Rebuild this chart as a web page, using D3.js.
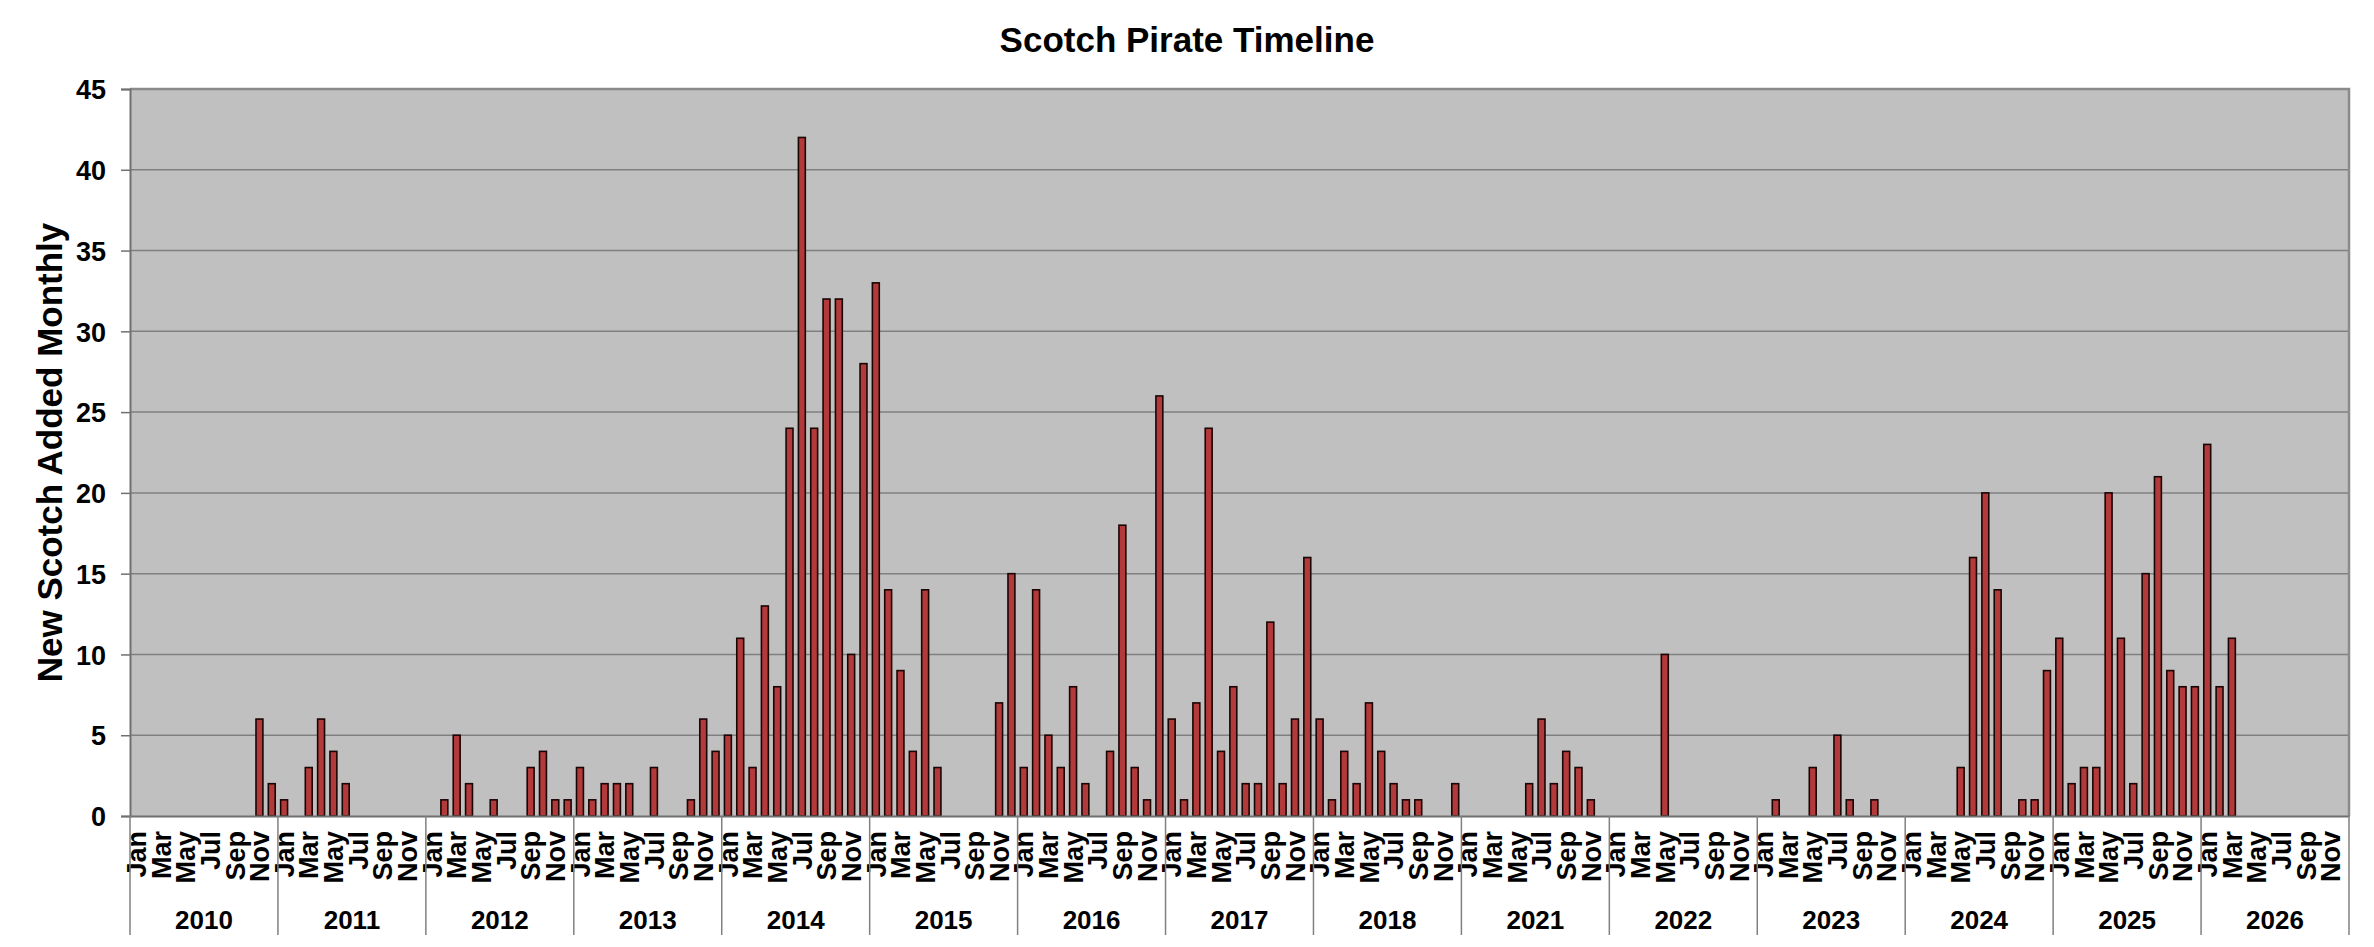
<!DOCTYPE html>
<html>
<head>
<meta charset="utf-8">
<script src="https://cdn.jsdelivr.net/npm/d3@7"></script>
<style>
  html, body { margin: 0; padding: 0; background: #ffffff; }
  svg { display: block; font-family: "Liberation Sans", Arial, sans-serif; }
</style>
</head>
<body>
<div id="chart"></div>
<script>
const chartTitle = "Scotch Pirate Timeline";
const yAxisTitle = "New Scotch Added Monthly";
const years = ["2010","2011","2012","2013","2014","2015","2016","2017","2018","2021","2022","2023","2024","2025","2026"];
const months = ["Jan","Feb","Mar","Apr","May","Jun","Jul","Aug","Sep","Oct","Nov","Dec"];
const shownMonths = ["Jan","Mar","May","Jul","Sep","Nov"];
const yTicks = [0,5,10,15,20,25,30,35,40,45];
// monthly counts, one row per year (Jan..Dec)
const monthlyCounts = [
  [0,0,0,0,0,0,0,0,0,0,6,2],       // 2010
  [1,0,3,6,4,2,0,0,0,0,0,0],       // 2011
  [0,1,5,2,0,1,0,0,3,4,1,1],       // 2012
  [3,1,2,2,2,0,3,0,0,1,6,4],       // 2013
  [5,11,3,13,8,24,42,24,32,32,10,28], // 2014
  [33,14,9,4,14,3,0,0,0,0,7,15],   // 2015
  [3,14,5,3,8,2,0,4,18,3,1,26],    // 2016
  [6,1,7,24,4,8,2,2,12,2,6,16],    // 2017
  [6,1,4,2,7,4,2,1,1,0,0,2],       // 2018
  [0,0,0,0,0,2,6,2,4,3,1,0],       // 2021
  [0,0,0,0,10,0,0,0,0,0,0,0],      // 2022
  [0,1,0,0,3,0,5,1,0,1,0,0],       // 2023
  [0,0,0,0,3,16,20,14,0,1,1,9],    // 2024
  [11,2,3,3,20,11,2,15,21,9,8,8],  // 2025
  [23,8,11,0,0,0,0,0,0,0,0,0]      // 2026
];

const W = 2374, H = 947;
const plotL = 130, plotR = 2349, plotT = 89, plotB = 816;

const data = [];
years.forEach((yr, i) => {
  months.forEach((m, j) => {
    data.push({ key: yr + "-" + m, year: yr, month: m, value: monthlyCounts[i][j] });
  });
});

const svg = d3.select("#chart").append("svg").attr("width", W).attr("height", H);

const x = d3.scaleBand().domain(data.map(d => d.key)).range([plotL, plotR])
  .paddingInner(0.44).paddingOuter(0.22);
const y = d3.scaleLinear().domain([0, 45]).range([plotB, plotT]);

// plot background
svg.append("rect").attr("x", plotL).attr("y", plotT)
  .attr("width", plotR - plotL).attr("height", plotB - plotT)
  .attr("fill", "#c0c0c0");

// gridlines
svg.append("g").selectAll("line").data(yTicks.filter(t => t > 0 && t < 45)).join("line")
  .attr("x1", plotL).attr("x2", plotR)
  .attr("y1", d => y(d)).attr("y2", d => y(d))
  .attr("stroke", "#808080").attr("stroke-width", 1.5);

// plot border (top/right)
svg.append("path")
  .attr("d", `M${plotL},${plotT}H${plotR}V${plotB}`)
  .attr("fill", "none").attr("stroke", "#8a8a8a").attr("stroke-width", 2.5);

// bars
const bw = x.bandwidth();
svg.append("g").selectAll("rect").data(data.filter(d => d.value > 0)).join("rect")
  .attr("x", d => x(d.key))
  .attr("y", d => y(d.value))
  .attr("width", bw)
  .attr("height", d => plotB - y(d.value))
  .attr("fill", "#b33a3a")
  .attr("stroke", "#1a0505")
  .attr("stroke-width", 1.6);

// y axis
const yAxis = svg.append("g").attr("transform", `translate(${plotL},0)`)
  .call(d3.axisLeft(y).tickValues(yTicks).tickSize(9).tickPadding(15));
yAxis.select(".domain").attr("stroke", "#707070").attr("stroke-width", 2);
yAxis.selectAll(".tick line").attr("stroke", "#707070").attr("stroke-width", 1.5);
yAxis.selectAll(".tick text")
  .attr("font-family", "'Liberation Sans', Arial, sans-serif")
  .attr("font-size", 27).attr("font-weight", "bold").attr("fill", "#000")
  .attr("dy", "0.36em");

// x axis (months)
const xAxis = svg.append("g").attr("transform", `translate(0,${plotB})`)
  .call(d3.axisBottom(x)
    .tickValues(data.filter(d => shownMonths.includes(d.month)).map(d => d.key))
    .tickSize(0)
    .tickFormat(k => k.split("-")[1]));
xAxis.select(".domain").attr("stroke", "#707070").attr("stroke-width", 2);
xAxis.selectAll(".tick text")
  .attr("font-family", "'Liberation Sans', Arial, sans-serif")
  .attr("font-size", 27).attr("font-weight", "bold").attr("fill", "#000")
  .attr("transform", "rotate(-90)")
  .attr("text-anchor", "end")
  .attr("x", -15).attr("y", 0).attr("dy", "0.36em");

// year group dividers and labels
const yearStart = yr => x(yr + "-Jan") - x.step() * x.paddingOuter();
const yearEnd = yr => x(yr + "-Dec") + bw + x.step() * x.paddingOuter();
const dividers = years.map(yearStart).concat([yearEnd(years[years.length - 1])]);
svg.append("g").selectAll("line").data(dividers).join("line")
  .attr("x1", d => d).attr("x2", d => d)
  .attr("y1", plotB).attr("y2", 935)
  .attr("stroke", "#808080").attr("stroke-width", 1.5);

svg.append("g").selectAll("text").data(years).join("text")
  .attr("x", yr => (yearStart(yr) + yearEnd(yr)) / 2)
  .attr("y", 929)
  .attr("text-anchor", "middle")
  .attr("font-size", 26).attr("font-weight", "bold").attr("fill", "#000")
  .text(yr => yr);

// title
svg.append("text").attr("x", W / 2).attr("y", 52)
  .attr("text-anchor", "middle")
  .attr("font-size", 35).attr("font-weight", "bold").attr("fill", "#000")
  .text(chartTitle);

// y axis title
svg.append("text")
  .attr("transform", `translate(62,${(plotT + plotB) / 2}) rotate(-90)`)
  .attr("text-anchor", "middle")
  .attr("font-size", 35).attr("font-weight", "bold").attr("fill", "#000")
  .text(yAxisTitle);
</script>
</body>
</html>
